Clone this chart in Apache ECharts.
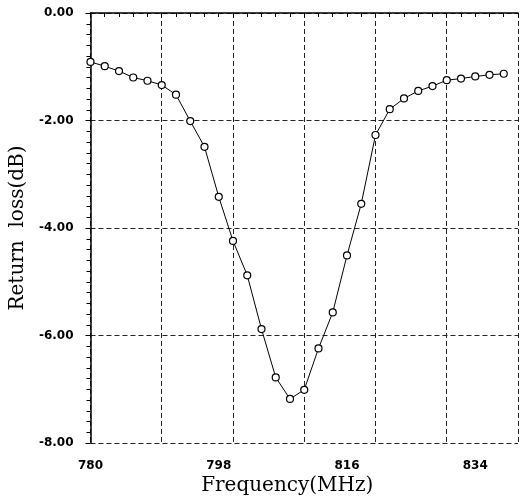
<!DOCTYPE html>
<html>
<head>
<meta charset="utf-8">
<script src="https://cdn.jsdelivr.net/npm/echarts@6/dist/echarts.min.js"></script>
<style>html,body{margin:0;padding:0;background:#fff}#c{width:520px;height:504px}</style>
</head>
<body>
<div id="c"></div>
<script>
const freqs = [780,782,784,786,788,790,792,794,796,798,800,802,804,806,808,810,812,814,816,818,820,822,824,826,828,830,832,834,836,838];
const returnLoss = [-0.91,-0.99,-1.08,-1.20,-1.26,-1.34,-1.52,-2.01,-2.49,-3.42,-4.24,-4.88,-5.88,-6.78,-7.18,-7.01,-6.24,-5.57,-4.51,-3.55,-2.27,-1.79,-1.59,-1.45,-1.36,-1.25,-1.22,-1.18,-1.15,-1.13];
const xTickLabels = [780,798,816,834];
const yTickLabels = ['0.00','-2.00','-4.00','-6.00','-8.00'];

const chart = echarts.init(document.getElementById('c'), null, {renderer:'canvas'});
const gridLine = {show:true, lineStyle:{color:'#222', type:[5,3], width:1}};
chart.setOption({
  animation:false,
  backgroundColor:'#fff',
  grid:{left:88, right:2, top:13, bottom:61, containLabel:false},
  xAxis:[{
    type:'value', min:780, max:840, interval:10,
    axisLine:{show:true, lineStyle:{color:'#000', width:1.5}},
    axisTick:{show:true, length:5, lineStyle:{color:'#000'}},
    minorTick:{show:true, splitNumber:5, length:4, lineStyle:{color:'#000'}},
    splitLine:gridLine,
    axisLabel:{show:false},
    name:'Frequency(MHz)', nameLocation:'middle', nameGap:33,
    nameTextStyle:{fontFamily:'DejaVu Serif', fontSize:20, color:'#000', padding:[0,34,0,0]}
  },{
    type:'value', min:780, max:840, position:'bottom',
    axisLine:{show:false}, axisTick:{show:false}, splitLine:{show:false},
    axisLabel:{show:true, customValues:xTickLabels, margin:17,
      fontFamily:'DejaVu Sans', fontWeight:'bold', fontSize:12, color:'#000'}
  }],
  yAxis:{
    type:'value', min:-8, max:0, interval:2,
    axisLine:{show:true, lineStyle:{color:'#000', width:1.5}},
    axisTick:{show:true, length:5, lineStyle:{color:'#000'}},
    minorTick:{show:true, splitNumber:10, length:4, lineStyle:{color:'#000'}},
    splitLine:gridLine,
    axisLabel:{margin:17, fontFamily:'DejaVu Sans', fontWeight:'bold', fontSize:12, color:'#000',
      formatter:function(v){ const s = v.toFixed(2); const i = yTickLabels.indexOf(s); return i>=0 ? yTickLabels[i] : s; }},
    name:'Return  loss(dB)', nameLocation:'middle', nameGap:56,
    nameTextStyle:{fontFamily:'DejaVu Serif', fontSize:20, color:'#000'}
  },
  series:[{
    type:'line', xAxisIndex:0,
    data:freqs.map((f,i)=>[f, returnLoss[i]]),
    symbol:'circle', symbolSize:7, showAllSymbol:true,
    lineStyle:{color:'#000', width:1},
    itemStyle:{color:'#fff', borderColor:'#000', borderWidth:1.2}
  }]
});
</script>
</body>
</html>
